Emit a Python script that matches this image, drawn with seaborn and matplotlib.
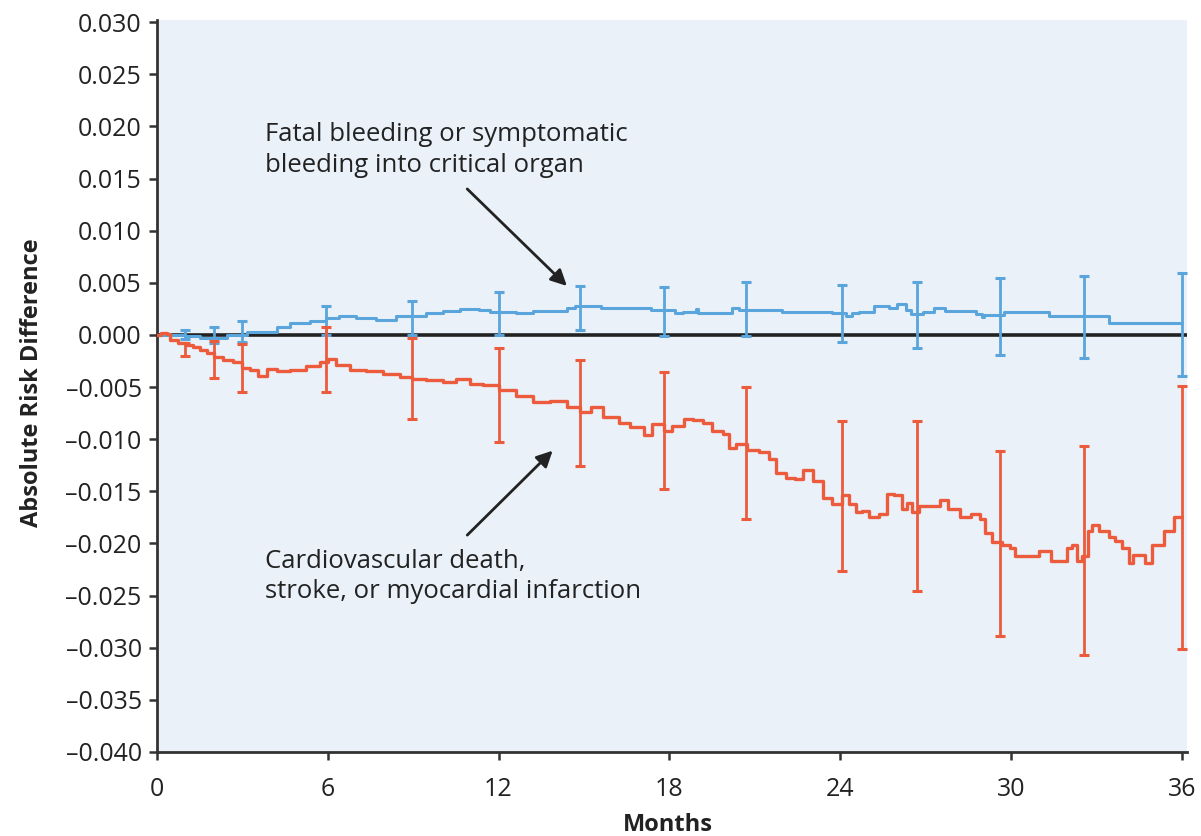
import matplotlib
matplotlib.use("Agg")
import matplotlib.pyplot as plt
import seaborn as sns
import numpy as np

# ---------------- data ----------------
blue_months = [0, 0.46, 1.0, 1.5, 2.45, 3.15, 3.6, 4.2, 4.67, 5.37, 5.95, 6.4, 7.0, 7.7, 8.4,
               9.46, 10.05, 10.63, 11.33, 11.7, 12.62, 13.2, 14.4, 14.67, 15.6, 17.24, 17.36,
               18.2, 18.47, 18.94, 19.0, 20.1, 20.2, 20.45, 21.96, 23.67, 23.73, 24.2, 24.4,
               24.66, 25.2, 25.72, 26.0, 26.3, 26.48, 26.9, 27.3, 27.7, 28.76, 28.99, 29.05,
               29.76, 31.33, 33.44, 36.0]
blue_values = [0.0, 0.0, -0.0001, -0.0003, 0.0, 0.0003, 0.0003, 0.0008, 0.0011, 0.0013, 0.0016,
               0.0018, 0.0016, 0.0014, 0.0018, 0.0021, 0.0023, 0.0025, 0.0024, 0.0022, 0.0021,
               0.0023, 0.0026, 0.0028, 0.0026, 0.0026, 0.0024, 0.0021, 0.0022, 0.0025, 0.0021,
               0.0021, 0.0026, 0.0024, 0.0022, 0.0022, 0.0021, 0.0018, 0.0021, 0.0022, 0.0028,
               0.0026, 0.0030, 0.0024, 0.0020, 0.0022, 0.0026, 0.0023, 0.0020, 0.0017, 0.0019,
               0.0022, 0.0018, 0.0011, 0.0011]

red_months = [0, 0.15, 0.35, 0.46, 0.75, 1.04, 1.25, 1.5, 1.75, 2.0, 2.33, 2.68, 3.0, 3.26,
              3.55, 3.85, 4.2, 4.67, 5.25, 5.72, 6.0, 6.3, 6.77, 7.36, 7.94, 8.53, 8.96, 9.46,
              10.05, 10.5, 11.0, 11.45, 12.03, 12.62, 13.2, 13.8, 14.4, 14.87, 15.25, 15.66,
              16.24, 16.6, 17.1, 17.4, 17.8, 18.1, 18.5, 18.82, 19.17, 19.5, 19.9, 20.1, 20.34,
              20.73, 21.15, 21.5, 21.75, 22.1, 22.4, 22.7, 23.03, 23.4, 23.73, 24.05, 24.3,
              24.55, 24.78, 25.0, 25.37, 25.66, 25.9, 26.19, 26.36, 26.54, 26.77, 27.2, 27.5,
              27.8, 28.2, 28.6, 28.9, 29.1, 29.35, 29.7, 29.98, 30.16, 30.87, 31.0, 31.2, 31.4,
              31.8, 31.98, 32.15, 32.33, 32.5, 32.7, 32.86, 33.09, 33.44, 33.67, 33.9, 34.14,
              34.3, 34.72, 34.96, 35.37, 35.72, 36.0]
red_values = [0.0, 0.0002, 0.0001, -0.0005, -0.0008, -0.0010, -0.0012, -0.0014, -0.0017, -0.0021,
              -0.0024, -0.0026, -0.0032, -0.0034, -0.0039, -0.0033, -0.0035, -0.0034, -0.0030,
              -0.0026, -0.0023, -0.0029, -0.0034, -0.0035, -0.0037, -0.0040, -0.0042, -0.0043,
              -0.0045, -0.0042, -0.0047, -0.0048, -0.0053, -0.0059, -0.0064, -0.0063, -0.0069,
              -0.0074, -0.0069, -0.0079, -0.0084, -0.0088, -0.0096, -0.0085, -0.0092, -0.0087,
              -0.0081, -0.0082, -0.0084, -0.0092, -0.0095, -0.0108, -0.0105, -0.0110, -0.0112,
              -0.0119, -0.0132, -0.0137, -0.0138, -0.0130, -0.0140, -0.0156, -0.0162, -0.0154,
              -0.0162, -0.0170, -0.0169, -0.0175, -0.0172, -0.0153, -0.0154, -0.0167, -0.0161,
              -0.0170, -0.0164, -0.0164, -0.0158, -0.0167, -0.0175, -0.0172, -0.0177, -0.0190,
              -0.0199, -0.0201, -0.0204, -0.0212, -0.0212, -0.0207, -0.0207, -0.0217, -0.0217,
              -0.0204, -0.0201, -0.0217, -0.0212, -0.0188, -0.0182, -0.0188, -0.0194, -0.0198,
              -0.0204, -0.0219, -0.0211, -0.0219, -0.0201, -0.0188, -0.0175, -0.0175]

err_months = [1.0, 2.0, 3.0, 5.95, 8.95, 12.0, 14.87, 17.8, 20.7, 24.05, 26.7, 29.6, 32.56, 36.0]
blue_lo = [-0.0004, -0.0008, -0.0007, 0.0, 0.0, 0.0, 0.0005, -0.0001, -0.0001, -0.0007,
           -0.0013, -0.0019, -0.0022, -0.0039]
blue_hi = [0.0005, 0.0008, 0.0013, 0.0028, 0.0033, 0.0041, 0.0047, 0.0046, 0.0051, 0.0048,
           0.0051, 0.0055, 0.0057, 0.0059]
red_lo = [-0.0020, -0.0041, -0.0055, -0.0055, -0.0081, -0.0103, -0.0126, -0.0148, -0.0177,
          -0.0226, -0.0246, -0.0289, -0.0307, -0.0301]
red_hi = [-0.0008, -0.0006, -0.0009, 0.0008, -0.0003, -0.0013, -0.0024, -0.0036, -0.0050,
          -0.0083, -0.0083, -0.0111, -0.0107, -0.0049]

x_ticks = [0, 6, 12, 18, 24, 30, 36]
y_ticks = [0.030, 0.025, 0.020, 0.015, 0.010, 0.005, 0.000, -0.005, -0.010, -0.015, -0.020,
           -0.025, -0.030, -0.035, -0.040]
y_ticklabels = ["0.030", "0.025", "0.020", "0.015", "0.010", "0.005", "0.000", "\u20130.005",
                "\u20130.010", "\u20130.015", "\u20130.020", "\u20130.025", "\u20130.030",
                "\u20130.035", "\u20130.040"]

label_bleed = "Fatal bleeding or symptomatic\nbleeding into critical organ"
label_cv = "Cardiovascular death,\nstroke, or myocardial infarction"

# ---------------- style ----------------
BLUE = "#5AA5DC"
RED = "#EC5B3C"
BG = "#EAF1F9"
DARK = "#333333"
TXT = "#222222"

sns.set_style("white")
plt.rcParams["font.family"] = ["Open Sans", "DejaVu Sans"]

fig = plt.figure(figsize=(12.01, 8.36), dpi=100)
ax = fig.add_axes([0.1307, 0.1005, 0.858, 0.8755])
ax.set_facecolor(BG)

ax.axhline(0, color=TXT, lw=2.6, zorder=1)

sns.lineplot(x=blue_months, y=blue_values, ax=ax, color=BLUE, lw=2.2,
             drawstyle="steps-post", estimator=None, sort=False, zorder=3)
sns.lineplot(x=red_months, y=red_values, ax=ax, color=RED, lw=2.4,
             drawstyle="steps-post", estimator=None, sort=False, zorder=3)

for lo, hi, col in [(blue_lo, blue_hi, BLUE), (red_lo, red_hi, RED)]:
    lo = np.array(lo)
    hi = np.array(hi)
    mid = (lo + hi) / 2
    ax.errorbar(err_months, mid, yerr=(hi - lo) / 2, fmt="none", ecolor=col,
                elinewidth=2.0, capsize=3.6, capthick=2.2, zorder=4)

ax.set_xlim(0, 36.2)
ax.set_ylim(-0.040, 0.0302)
ax.set_xticks(x_ticks)
ax.set_xticklabels([str(t) for t in x_ticks])
ax.set_yticks(y_ticks)
ax.set_yticklabels(y_ticklabels)
ax.tick_params(axis="both", which="major", labelsize=18, length=6, width=1.8,
               color=DARK, labelcolor=TXT, direction="out")
ax.tick_params(axis="x", bottom=True, pad=12)
ax.tick_params(axis="y", left=True, pad=5)

for s in ["top", "right"]:
    ax.spines[s].set_visible(False)
for s in ["left", "bottom"]:
    ax.spines[s].set_color(DARK)
    ax.spines[s].set_linewidth(2.0)

ax.set_xlabel("Months", fontsize=17, fontweight="bold", color=TXT)
ax.set_ylabel("Absolute Risk Difference", fontsize=17, fontweight="bold", color=TXT)
ax.xaxis.set_label_coords(0.496, -0.084)
ax.yaxis.set_label_coords(-0.11, 0.505)

ax.text(3.8, 0.01777, label_bleed, fontsize=18.5, color=TXT, va="center", ha="left",
        linespacing=1.3)
ax.text(3.8, -0.02316, label_cv, fontsize=18.5, color=TXT, va="center", ha="left",
        linespacing=1.3)

ax.annotate("", xy=(14.4, 0.0047), xytext=(10.9, 0.0140),
            arrowprops=dict(arrowstyle="-|>", color=TXT, lw=2.0,
                            mutation_scale=24, shrinkA=0, shrinkB=0))
ax.annotate("", xy=(13.9, -0.0111), xytext=(10.9, -0.0192),
            arrowprops=dict(arrowstyle="-|>", color=TXT, lw=2.0,
                            mutation_scale=24, shrinkA=0, shrinkB=0))

fig.savefig("out.png", dpi=100, facecolor="white")
